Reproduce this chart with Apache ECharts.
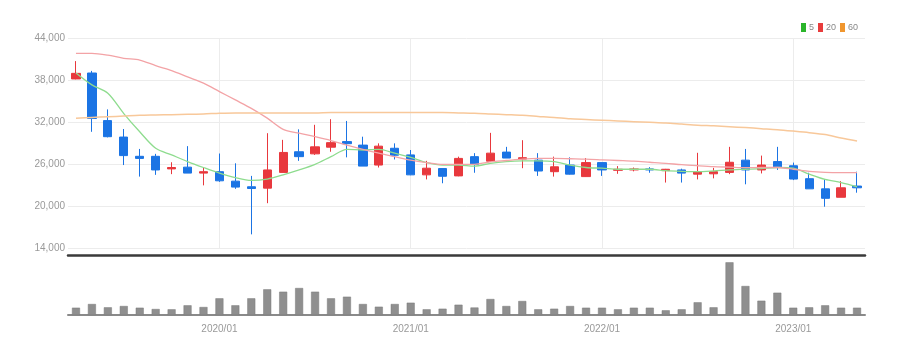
<!DOCTYPE html>
<html>
<head>
<meta charset="utf-8">
<title>chart</title>
<script src="https://cdn.jsdelivr.net/npm/echarts@6/dist/echarts.min.js"></script>
<style>
    html, body { margin: 0; padding: 0; background: #fff; }
    #chart { width: 909px; height: 354px; }
</style>
</head>
<body>
<div id="chart"></div>
<script>
    // 월봉 (open, close, low, high)
    var months = [];
    (function () {
        for (var y = 2019, m = 4; !(y === 2023 && m === 6); m++) {
            if (m > 12) { m = 1; y++; }
            if (y === 2023 && m === 6) break;
            months.push(y + '/' + (m < 10 ? '0' + m : m));
        }
    })();

    var opens  = [38150, 39000, 32200, 29850, 27100, 27100, 25300, 25550, 24700, 24900,
                  23550, 22750, 22550, 24800, 27750, 27450, 28400, 29200, 28700, 25850,
                  28250, 27300, 24450, 25350, 24300, 27050, 26400, 27700, 26700, 26550,
                  24900, 25850, 24200, 26200, 25100, 25150, 25300, 25050, 25150, 24550,
                  24600, 24800, 26550, 25150, 26350, 25750, 23900, 22450, 21250, 22850];
    var closes = [38950, 32500, 29900, 27200, 26800, 25150, 25500, 24700, 24900, 23600,
                  22700, 22500, 25150, 27650, 27050, 28450, 29050, 28900, 25700, 28550,
                  27250, 24450, 25400, 24250, 26800, 25950, 27550, 26850, 26900, 25000,
                  25600, 24550, 26200, 25150, 25250, 25300, 25150, 25250, 24700, 24900,
                  24900, 26250, 25150, 25850, 25600, 23850, 22450, 21100, 22600, 22600];
    var lows   = [38100, 30600, 29800, 25850, 24200, 24450, 24550, 24700, 22950, 23450,
                  22450, 15950, 20400, 24800, 26450, 27300, 27750, 26950, 25700, 25500,
                  26650, 24400, 23800, 23250, 24250, 24750, 26300, 26850, 25400, 24300,
                  24200, 24500, 24150, 24300, 24600, 24950, 24750, 23350, 23350, 23800,
                  23950, 24550, 23100, 24650, 25150, 23700, 22450, 19900, 21250, 21900];
    var highs  = [40700, 39300, 33800, 31000, 28150, 27450, 26250, 28550, 25500, 27500,
                  26100, 24300, 30400, 29450, 30950, 31600, 32400, 32150, 29900, 28950,
                  28950, 28000, 26450, 25350, 27050, 27550, 30450, 28450, 29400, 27550,
                  27050, 26950, 26850, 26200, 25700, 25500, 25550, 25300, 25330, 27600,
                  25450, 28450, 28150, 27200, 28450, 26200, 24750, 23800, 23550, 24900];

    var ma5  = [39000, 37300, 36100, 33200, 30600, 28250, 27300, 26350, 25500, 24700,
                24050, 23650, 23850, 24450, 25150, 25950, 27050, 28100, 28000, 28100,
                27550, 26950, 26200, 25850, 25850, 25700, 26100, 26350, 26450, 26450,
                26350, 25850, 25500, 25400, 25250, 25250, 25250, 25050, 24950, 24900,
                25000, 25150, 25250, 25350, 25500, 25400, 24550, 23800, 23350, 22750];
    var ma20 = [41800, 41800, 41550, 41100, 40850, 40050, 39350, 38450, 37550, 36350,
                35150, 33950, 32550, 30950, 30400, 29900, 29350, 28700, 28100, 27550,
                27050, 26550, 26200, 25950, 25950, 25950, 26300, 26500, 26700, 26800,
                26800, 26750, 26700, 26600, 26500, 26400, 26250, 26100, 25900, 25750,
                25620, 25550, 25480, 25500, 25500, 25250, 24950, 24800, 24760, 24760];
    var ma60 = [32550, 32650, 32750, 32850, 32950, 33000, 33050, 33100, 33150, 33250,
                33300, 33300, 33300, 33300, 33300, 33300, 33350, 33350, 33350, 33350,
                33350, 33350, 33350, 33350, 33300, 33250, 33150, 33050, 32950, 32800,
                32650, 32450, 32350, 32250, 32150, 32050, 31950, 31850, 31700, 31550,
                31450, 31330, 31200, 31050, 30900, 30700, 30480, 30200, 29700, 29300];
    var volumes = [73, 110, 77, 90, 73, 60, 57, 97, 80, 167,
                   97, 167, 257, 233, 270, 233, 167, 183, 110, 83,
                   110, 123, 57, 63, 103, 75, 160, 90, 140, 57,
                   63, 90, 73, 73, 57, 73, 73, 47, 57, 127,
                   77, 527, 290, 143, 223, 73, 77, 97, 73, 73];

    var yTicks = [14000, 44000, 6000]; // min, max, interval

    var candles = [];
    for (var i = 0; i < months.length; i++) {
        candles.push([opens[i], closes[i], lows[i], highs[i]]);
    }

    function isJan(idx, val) { return /\/01$/.test(val); }

    var font = "'Liberation Sans', Arial, sans-serif";
    var chart = echarts.init(document.getElementById('chart'));
    var option = {
        animation: false,
        textStyle: { fontFamily: font },
        legend: {
            right: 46,
            top: 18,
            icon: 'rect',
            itemWidth: 5,
            itemHeight: 9,
            itemGap: 4,
            textStyle: { color: '#888', fontSize: 9, fontFamily: font, padding: [0, 0, 0, -2] },
            data: ['5', '20', '60']
        },
        grid: [
            { left: 68, right: 44, top: 38, height: 210 },
            { left: 68, right: 44, top: 255, height: 60 }
        ],
        xAxis: [{
            type: 'category',
            gridIndex: 0,
            data: months,
            boundaryGap: true,
            offset: 7,
            axisLine: { lineStyle: { color: '#3a3a3a', width: 2.5 } },
            axisTick: { show: false },
            axisLabel: { show: false },
            splitLine: {
                show: true,
                interval: isJan,
                alignWithLabel: true,
                lineStyle: { color: '#ececec' }
            }
        }, {
            type: 'category',
            gridIndex: 1,
            data: months,
            boundaryGap: true,
            axisLine: { lineStyle: { color: '#8a8a8a', width: 2 } },
            axisTick: { interval: isJan, alignWithLabel: true, length: 4, lineStyle: { color: '#555' } },
            axisLabel: { interval: isJan, color: '#999', fontSize: 10, margin: 9, fontFamily: font },
            splitLine: { show: false }
        }],
        yAxis: [{
            type: 'value',
            gridIndex: 0,
            min: yTicks[0],
            max: yTicks[1],
            interval: yTicks[2],
            axisLine: { show: false },
            axisTick: { show: false },
            axisLabel: {
                color: '#999',
                fontSize: 10,
                margin: 3,
                fontFamily: font,
                formatter: function (v) { return v.toLocaleString('en-US'); }
            },
            splitLine: { lineStyle: { color: '#ececec' } }
        }, {
            type: 'value',
            gridIndex: 1,
            min: 0,
            max: 600,
            axisLine: { show: false },
            axisTick: { show: false },
            axisLabel: { show: false },
            splitLine: { show: false }
        }],
        series: [{
            name: 'candle',
            type: 'candlestick',
            xAxisIndex: 0,
            yAxisIndex: 0,
            barWidth: '55%',
            data: candles,
            itemStyle: {
                color: '#e8383d',
                color0: '#1b74e4',
                borderColor: '#e8383d',
                borderColor0: '#1b74e4',
                borderWidth: 1
            }
        }, {
            name: '5',
            type: 'line',
            data: ma5,
            smooth: 0.3,
            showSymbol: false,
            itemStyle: { color: '#2ab52a' },
            lineStyle: { color: '#8edc8e', width: 1.3 }
        }, {
            name: '20',
            type: 'line',
            data: ma20,
            smooth: 0.3,
            showSymbol: false,
            itemStyle: { color: '#e83c3c' },
            lineStyle: { color: '#f3a3a6', width: 1.3 }
        }, {
            name: '60',
            type: 'line',
            data: ma60,
            smooth: 0.3,
            showSymbol: false,
            itemStyle: { color: '#f0962e' },
            lineStyle: { color: '#f8c89a', width: 1.5 }
        }, {
            name: 'volume',
            type: 'bar',
            xAxisIndex: 1,
            yAxisIndex: 1,
            barWidth: 8,
            data: volumes,
            itemStyle: { color: '#8f8f8f', borderColor: '#7a7a7a', borderWidth: 0.5 }
        }]
    };
    chart.setOption(option);
</script>
</body>
</html>
